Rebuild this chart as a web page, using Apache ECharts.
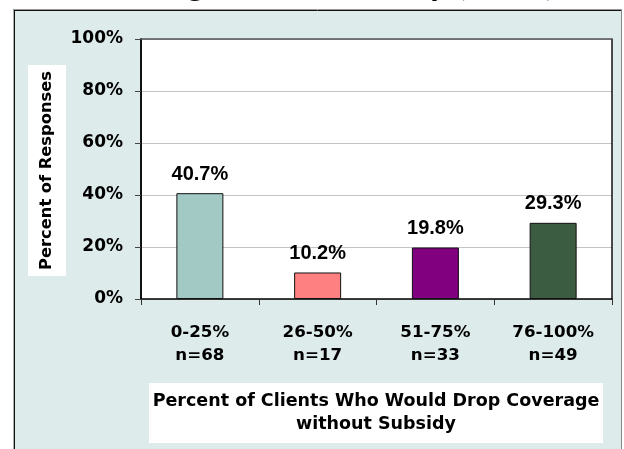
<!DOCTYPE html>
<html>
<head>
<meta charset="utf-8">
<script src="https://cdn.jsdelivr.net/npm/echarts@6/dist/echarts.min.js"></script>
<style>
  html, body { margin: 0; padding: 0; background: #fff; }
  #chart { width: 624px; height: 449px; }
</style>
</head>
<body>
<div id="chart"></div>
<script>
// Share of responses by how many clients would drop coverage without a subsidy
const categories = ['0-25%', '26-50%', '51-75%', '76-100%'];
const counts = [68, 17, 33, 49];
const shares = [40.7, 10.2, 19.8, 29.3];
const yTicks = [0, 20, 40, 60, 80, 100];

const barColors = ['#A3C9C5', '#FF8080', '#800080', '#3C5C42'];
const sans = 'DejaVu Sans';

const chart = echarts.init(document.getElementById('chart'));

const xLabels = categories.map((c, i) => c + '\nn=' + counts[i]);

chart.setOption({
  animation: false,
  backgroundColor: '#fff',
  graphic: [
    // outer panel
    { type: 'rect', z: -10, shape: { x: 14, y: 10, width: 607, height: 460 },
      style: { fill: '#DDEBEB', stroke: null } },
    { type: 'line', z: -9, shape: { x1: 13, y1: 9.5, x2: 622, y2: 9.5 },
      style: { stroke: '#999', lineWidth: 1 } },
    { type: 'line', z: -9, shape: { x1: 14, y1: 10.5, x2: 621, y2: 10.5 },
      style: { stroke: '#111', lineWidth: 1 } },
    { type: 'line', z: -9, shape: { x1: 14.5, y1: 10, x2: 14.5, y2: 449 },
      style: { stroke: '#111', lineWidth: 1 } },
    { type: 'line', z: -9, shape: { x1: 13.5, y1: 10, x2: 13.5, y2: 449 },
      style: { stroke: '#aaa', lineWidth: 1 } },
    { type: 'line', z: -9, shape: { x1: 621.5, y1: 10, x2: 621.5, y2: 449 },
      style: { stroke: '#888', lineWidth: 1 } },
    // chart title, running off the top edge
    { type: 'text', z: 5, x: 324, y: -14,
      style: { text: 'Coverage Without Subsidy (n=167)', fill: '#000',
        font: 'bold 31px "Liberation Serif"', align: 'center', verticalAlign: 'middle' } },
    // y-axis title box
    { type: 'rect', z: 2, shape: { x: 28, y: 65, width: 38, height: 211 },
      style: { fill: '#fff' } },
    { type: 'text', z: 3, x: 47, y: 170.5, rotation: Math.PI / 2,
      style: { text: 'Percent of Responses', fill: '#000',
        font: 'bold 16.3px "' + sans + '"', align: 'center', verticalAlign: 'middle' } },
    // x-axis title box
    { type: 'rect', z: 2, shape: { x: 149, y: 383, width: 454, height: 60 },
      style: { fill: '#fff' } },
    { type: 'text', z: 3, x: 376, y: 412.5,
      style: { text: 'Percent of Clients Who Would Drop Coverage\nwithout Subsidy', fill: '#000',
        font: 'bold 17.5px "' + sans + '"', lineHeight: 23,
        align: 'center', verticalAlign: 'middle' } }
  ],
  grid: {
    left: 141, right: 12, top: 39, bottom: 150,
    show: true, backgroundColor: '#fff', borderWidth: 0
  },
  xAxis: {
    type: 'category',
    data: xLabels,
    axisLine: { lineStyle: { color: '#000', width: 1.5 } },
    axisTick: { show: true, interval: 0, length: 6, lineStyle: { color: '#333', width: 1 } },
    axisLabel: {
      interval: 0, margin: 22, color: '#000',
      fontFamily: sans, fontWeight: 'bold', fontSize: 16.7, lineHeight: 23
    }
  },
  yAxis: [{
    type: 'value',
    min: yTicks[0], max: yTicks[yTicks.length - 1], interval: 20,
    axisLine: { show: true, lineStyle: { color: '#111', width: 2 } },
    axisTick: { show: true, length: 6, lineStyle: { color: '#444' } },
    axisLabel: {
      formatter: '{value}%', margin: 18, color: '#000',
      fontFamily: sans, fontWeight: 'bold', fontSize: 17
    },
    splitLine: { show: true, lineStyle: { color: '#c4c4c4', width: 1 } }
  }, {
    type: 'value', position: 'right',
    min: yTicks[0], max: yTicks[yTicks.length - 1], interval: 20,
    axisLine: { show: true, lineStyle: { color: '#111', width: 1.5 } },
    axisTick: { show: false }, axisLabel: { show: false }, splitLine: { show: false }
  }],
  series: [{
    type: 'bar',
    barWidth: 47,
    data: shares.map((v, i) => ({ value: v, itemStyle: { color: barColors[i] } })),
    itemStyle: { borderColor: '#111', borderWidth: 1 },
    label: {
      show: true, position: 'top', distance: 9,
      formatter: p => p.value.toFixed(1) + '%',
      color: '#000', fontFamily: 'Liberation Sans', fontWeight: 'bold', fontSize: 20
    },
    markLine: {
      silent: true, symbol: 'none', label: { show: false },
      lineStyle: { color: '#555', type: 'solid', width: 1.5 },
      data: [{ yAxis: yTicks[yTicks.length - 1] }]
    }
  }]
});
</script>
</body>
</html>
